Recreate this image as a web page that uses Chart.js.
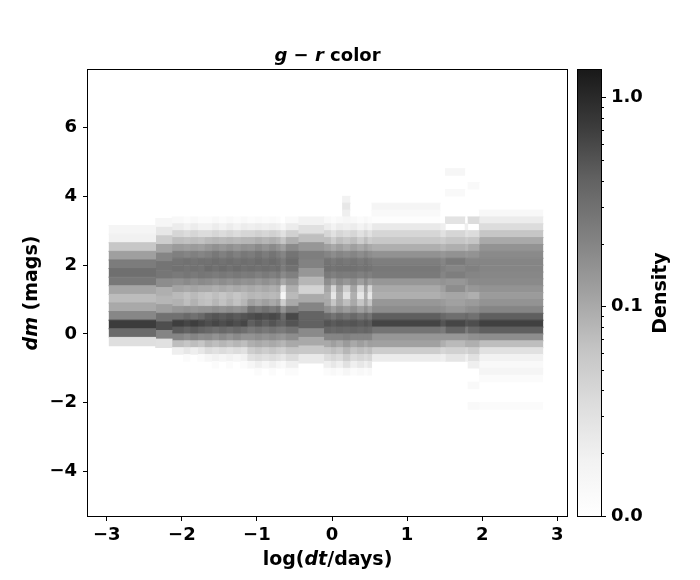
<!DOCTYPE html>
<html>
<head>
<meta charset="utf-8">
<script src="https://cdn.jsdelivr.net/npm/chart.js@4.4.0/dist/chart.umd.min.js"></script>
<style>
    body { margin: 0; background: #fff; }
    #wrap { position: relative; width: 700px; height: 580px; }
    #wrap canvas { position: absolute; left: 0; top: 0; }
</style>
</head>
<body>
<div id="wrap">
    <canvas id="mainChart" width="700" height="580"></canvas>
    <canvas id="cbarChart" width="700" height="580"></canvas>
</div>
<script>
// x bins in log(dt/days): edges and the dm profile used inside each bin
const binEdges = [-2.97, -2.35, -2.13, -1.98, -1.89, -1.79, -1.70, -1.60, -1.51, -1.41, -1.32,
    -1.22, -1.13, -1.03, -0.94, -0.84, -0.75, -0.69, -0.62, -0.45, -0.11, -0.02, 0.05,
    0.14, 0.24, 0.33, 0.42, 0.47, 0.53, 1.44, 1.51, 1.77, 1.81, 1.96, 2.81];
const binProfile = [0, 1, 2, 3, 2, 3, 5, 4, 5, 4, 5, 4, 7, 6, 7, 6, 7, 8, 6, 9,
    10, 11, 10, 12, 10, 11, 10, 11, 13, 14, 15, 14, 16, 17];

// dm profiles: lower edge of first row, row height, density per row (bottom -> top)
const profileBase = [-0.35, -0.4, -1.2, -1.2, -1.2, -1.2, -1.2, -1.2, -1.2, -0.85,
    -1.2, -1.2, -1.2, -0.8, -0.8, -0.8, -2.2, -2.2];
const profileStep = [0.25, 0.25, 0.2, 0.2, 0.2, 0.2, 0.2, 0.2, 0.2, 0.25,
    0.2, 0.2, 0.2, 0.2, 0.2, 0.2, 0.2, 0.2];

const densP0 = [0.032, 0.34, 0.72, 0.19, 0.10, 0.072, 0.105, 0.26, 0.31, 0.24, 0.12, 0.058, 0.019, 0.016];
const densP1 = [0.03, 0.2, 0.55, 0.3, 0.12, 0.08, 0.09, 0.17, 0.27, 0.28, 0.2, 0.11, 0.05, 0.025, 0.015];
const densN1 = [0, 0, 0, 0.02, 0.07, 0.2, 0.45, 0.7, 0.3, 0.14, 0.085, 0.075, 0.11, 0.16, 0.25, 0.3, 0.28, 0.22, 0.13, 0.07, 0.04, 0.022, 0.014];
const densN1b = [0, 0, 0.012, 0.025, 0.06, 0.17, 0.4, 0.62, 0.35, 0.15, 0.07, 0.065, 0.1, 0.18, 0.27, 0.28, 0.3, 0.2, 0.12, 0.065, 0.035, 0.018, 0.012];
const densN2 = [0, 0.012, 0.018, 0.03, 0.07, 0.15, 0.32, 0.62, 0.5, 0.17, 0.08, 0.07, 0.09, 0.15, 0.24, 0.3, 0.32, 0.26, 0.16, 0.08, 0.04, 0.022, 0.014];
const densN2b = [0, 0, 0.015, 0.035, 0.08, 0.18, 0.36, 0.55, 0.45, 0.15, 0.065, 0.06, 0.1, 0.17, 0.26, 0.33, 0.29, 0.22, 0.14, 0.075, 0.035, 0.018, 0.012];
const densN3 = [0.012, 0.02, 0.035, 0.06, 0.1, 0.17, 0.3, 0.5, 0.6, 0.25, 0.1, 0.075, 0.09, 0.14, 0.22, 0.3, 0.33, 0.28, 0.18, 0.09, 0.045, 0.022, 0.013];
const densN3b = [0, 0.015, 0.03, 0.05, 0.09, 0.15, 0.26, 0.42, 0.55, 0.3, 0.12, 0.08, 0.1, 0.16, 0.25, 0.32, 0.3, 0.24, 0.15, 0.08, 0.04, 0.02, 0.012];
const densL = [0, 0.013, 0.025, 0.045, 0.08, 0.14, 0.25, 0.4, 0.35, 0.15, 0.05, 0.015, 0.03, 0.1, 0.18, 0.24, 0.25, 0.2, 0.12, 0.06, 0.03, 0.015, 0];
const densW1 = [0.024, 0.056, 0.1, 0.18, 0.41, 0.39, 0.2, 0.098, 0.043, 0.08, 0.14, 0.21, 0.23, 0.14, 0.068, 0.031, 0.018];
const densZ1 = [0.012, 0.02, 0.035, 0.06, 0.1, 0.2, 0.38, 0.5, 0.35, 0.16, 0.1, 0.09, 0.11, 0.17, 0.25, 0.3, 0.28, 0.2, 0.12, 0.07, 0.04, 0.022, 0.014];
const densZ2 = [0.014, 0.025, 0.04, 0.07, 0.12, 0.2, 0.35, 0.45, 0.28, 0.12, 0.06, 0.025, 0.04, 0.12, 0.22, 0.28, 0.25, 0.17, 0.1, 0.05, 0.03, 0.017, 0.012];
const densZ3 = [0.015, 0.03, 0.05, 0.08, 0.13, 0.22, 0.36, 0.48, 0.3, 0.13, 0.07, 0.03, 0.05, 0.14, 0.24, 0.3, 0.26, 0.18, 0.1, 0.06, 0.035, 0.02, 0.015, 0.02, 0.025, 0.018];
const densW2 = [0.022, 0.05, 0.115, 0.14, 0.28, 0.64, 0.42, 0.17, 0.14, 0.09, 0.1, 0.14, 0.25, 0.26, 0.23, 0.155, 0.09, 0.056, 0.04, 0.024, 0.011, 0.013, 0.016];
const densT = [0.02, 0.04, 0.09, 0.14, 0.25, 0.5, 0.35, 0.16, 0.13, 0.1, 0.12, 0.15, 0.2, 0.22, 0.2, 0.14, 0.08, 0.05, 0.03, 0.02];
const densC3 = [0.027, 0.045, 0.075, 0.14, 0.39, 0.62, 0.31, 0.14, 0.115, 0.105, 0.17, 0.14, 0.23, 0.2, 0.25, 0.155, 0.09, 0.06, 0.04, 0, 0.028, 0, 0, 0, 0.013, 0, 0, 0.015];
const densC4 = [0.013, 0, 0, 0.013, 0, 0, 0.02, 0.03, 0.05, 0.09, 0.16, 0.35, 0.55, 0.3, 0.17, 0.13, 0.09, 0.14, 0.18, 0.2, 0.22, 0.2, 0.15, 0.1, 0.06, 0.035, 0, 0.035, 0, 0, 0, 0, 0.013];
const densW3 = [0.012, 0, 0, 0, 0.012, 0.016, 0.013, 0.018, 0.03, 0.07, 0.17, 0.42, 0.68, 0.42, 0.2, 0.15, 0.13, 0.15, 0.18, 0.19, 0.2, 0.2, 0.18, 0.15, 0.1, 0.06, 0.035, 0.022, 0.014];

const profileDensity = [densP0, densP1, densN1, densN1b, densN2, densN2b, densN3, densN3b, densL,
    densW1, densZ1, densZ2, densZ3, densW2, densT, densC3, densC4, densW3];

// axes
const xMin = -3.25, xMax = 3.13;
const yMin = -5.29, yMax = 7.67;
const xTicks = [-3, -2, -1, 0, 1, 2, 3];
const yTicks = [-4, -2, 0, 2, 4, 6];

// colour bar (log scale)
const vMin = 0.01, vMax = 1.35;
const cbarTicks = [0.01, 0.1, 1];
const cbarTickLabels = ["0.0", "0.1", "1.0"];
const cbarMinorTicks = [0.02, 0.03, 0.04, 0.05, 0.06, 0.07, 0.08, 0.09, 0.2, 0.3, 0.4, 0.5, 0.6, 0.7, 0.8, 0.9];

// matplotlib "Greys" colormap, drawn with alpha 0.9 on white
const greysStops = [255, 240, 217, 189, 150, 115, 82, 37, 0];
const cellAlpha = 0.9;

// tiny overlap between neighbouring cells so no anti-aliasing seams show
const cellOverlap = 0.006;

const FONT = '"DejaVu Sans", sans-serif';

function greyLevel(t) {
    t = Math.min(1, Math.max(0, t));
    const f = t * 8;
    const i = Math.min(7, Math.floor(f));
    const c = greysStops[i] + (greysStops[i + 1] - greysStops[i]) * (f - i);
    return Math.round(cellAlpha * c + (1 - cellAlpha) * 255);
}

function colorFor(v) {
    const t = (Math.log10(v) - Math.log10(vMin)) / (Math.log10(vMax) - Math.log10(vMin));
    const g = greyLevel(t);
    return `rgb(${g},${g},${g})`;
}

function minusLabel(v) {
    return v < 0 ? "\u2212" + Math.abs(v) : String(v);
}

// draw a label made of upright and italic pieces, centred on (x, y)
function drawRich(ctx, parts, x, y, size, rotate) {
    ctx.save();
    ctx.translate(x, y);
    if (rotate) ctx.rotate(-Math.PI / 2);
    ctx.fillStyle = "#000";
    ctx.textBaseline = "alphabetic";
    ctx.textAlign = "left";
    let total = 0;
    for (const p of parts) {
        ctx.font = (p[1] ? "italic " : "") + "bold " + size + "px " + FONT;
        total += ctx.measureText(p[0]).width;
    }
    let cx = -total / 2;
    for (const p of parts) {
        ctx.font = (p[1] ? "italic " : "") + "bold " + size + "px " + FONT;
        ctx.fillText(p[0], cx, 0);
        cx += ctx.measureText(p[0]).width;
    }
    ctx.restore();
}

// one filled rectangle per histogram cell
const datasets = [];
for (let i = 0; i < binProfile.length; i++) {
    const p = binProfile[i];
    const x0 = binEdges[i] - cellOverlap;
    const x1 = binEdges[i + 1] + cellOverlap;
    profileDensity[p].forEach((v, j) => {
        if (v <= 0) return;
        const lo = profileBase[p] + j * profileStep[p];
        const hi = lo + profileStep[p];
        const col = colorFor(v);
        datasets.push({
            data: [{ x: x0, y: hi }, { x: x1, y: hi }],
            fill: { value: lo - cellOverlap },
            backgroundColor: col,
            borderColor: col,
            borderWidth: 1,
            pointRadius: 0,
            tension: 0
        });
    });
}

const framePlugin = {
    id: "frame",
    afterDraw(chart) {
        const a = chart.chartArea;
        const ctx = chart.ctx;
        ctx.save();
        ctx.strokeStyle = "#000";
        ctx.lineWidth = 1;
        ctx.strokeRect(Math.round(a.left) - 0.5, Math.round(a.top) - 0.5,
            Math.round(a.right - a.left) + 1, Math.round(a.bottom - a.top) + 1);
        ctx.restore();
    }
};

const labelPlugin = {
    id: "labels",
    afterDraw(chart) {
        const a = chart.chartArea;
        const cx = (a.left + a.right) / 2;
        const cy = (a.top + a.bottom) / 2;
        drawRich(chart.ctx, [["g", 1], [" \u2212 ", 0], ["r", 1], [" color", 0]], cx, 61, 18, false);
        drawRich(chart.ctx, [["log(", 0], ["dt", 1], ["/days)", 0]], cx, 565, 19, false);
        drawRich(chart.ctx, [["dm", 1], [" (mags)", 0]], 37, cy, 19, true);
    }
};

const axisGrid = { display: true, drawOnChartArea: false, drawTicks: true, tickLength: 5, color: "#000", lineWidth: 1 };
const tickFont = { family: FONT, size: 18, weight: "bold" };

new Chart(document.getElementById("mainChart"), {
    type: "line",
    data: { datasets: datasets },
    options: {
        responsive: false,
        animation: false,
        events: [],
        layout: { padding: { left: 0, top: 70, right: 133, bottom: 0 } },
        plugins: { legend: { display: false }, tooltip: { enabled: false }, title: { display: false } },
        scales: {
            x: {
                type: "linear",
                min: xMin,
                max: xMax,
                afterFit: (s) => { s.height = 64; },
                afterBuildTicks: (s) => { s.ticks = xTicks.map((v) => ({ value: v })); },
                ticks: { callback: minusLabel, font: tickFont, color: "#000", padding: 4, maxRotation: 0, autoSkip: false },
                grid: axisGrid,
                border: { display: false }
            },
            y: {
                type: "linear",
                min: yMin,
                max: yMax,
                afterFit: (s) => { s.width = 88; },
                afterBuildTicks: (s) => { s.ticks = yTicks.map((v) => ({ value: v })); },
                ticks: { callback: minusLabel, font: tickFont, color: "#000", padding: 6, autoSkip: false },
                grid: axisGrid,
                border: { display: false }
            }
        }
    },
    plugins: [framePlugin, labelPlugin]
});

// colour bar: one floating bar painted with the colormap along the log axis
const minorTickPlugin = {
    id: "minorTicks",
    afterDraw(chart) {
        const s = chart.scales.y;
        const a = chart.chartArea;
        const ctx = chart.ctx;
        ctx.save();
        ctx.strokeStyle = "#000";
        ctx.lineWidth = 1;
        for (const v of cbarMinorTicks) {
            const y = Math.round(s.getPixelForValue(v)) + 0.5;
            ctx.beginPath();
            ctx.moveTo(a.right, y);
            ctx.lineTo(a.right + 3, y);
            ctx.stroke();
        }
        ctx.restore();
        drawRich(ctx, [["Density", 0]], 666, (a.top + a.bottom) / 2, 19, true);
    }
};

new Chart(document.getElementById("cbarChart"), {
    type: "bar",
    data: {
        labels: ["Density"],
        datasets: [{
            data: [[vMin, vMax]],
            backgroundColor: (ctx) => {
                const a = ctx.chart.chartArea;
                if (!a) return "#888";
                const g = ctx.chart.ctx.createLinearGradient(0, a.bottom, 0, a.top);
                for (let i = 0; i <= 8; i++) {
                    const lv = greyLevel(i / 8);
                    g.addColorStop(i / 8, `rgb(${lv},${lv},${lv})`);
                }
                return g;
            },
            borderWidth: 0,
            barPercentage: 1,
            categoryPercentage: 1
        }]
    },
    options: {
        responsive: false,
        animation: false,
        events: [],
        layout: { padding: { left: 578, top: 70, right: 0, bottom: 64 } },
        plugins: { legend: { display: false }, tooltip: { enabled: false } },
        scales: {
            x: { display: false },
            y: {
                type: "logarithmic",
                position: "right",
                min: vMin,
                max: vMax,
                afterFit: (s) => { s.width = 99; },
                afterBuildTicks: (s) => { s.ticks = cbarTicks.map((v) => ({ value: v })); },
                ticks: {
                    callback: (v) => cbarTickLabels[cbarTicks.indexOf(v)],
                    font: tickFont, color: "#000", padding: 5, autoSkip: false
                },
                grid: axisGrid,
                border: { display: false }
            }
        }
    },
    plugins: [framePlugin, minorTickPlugin]
});
</script>
</body>
</html>
